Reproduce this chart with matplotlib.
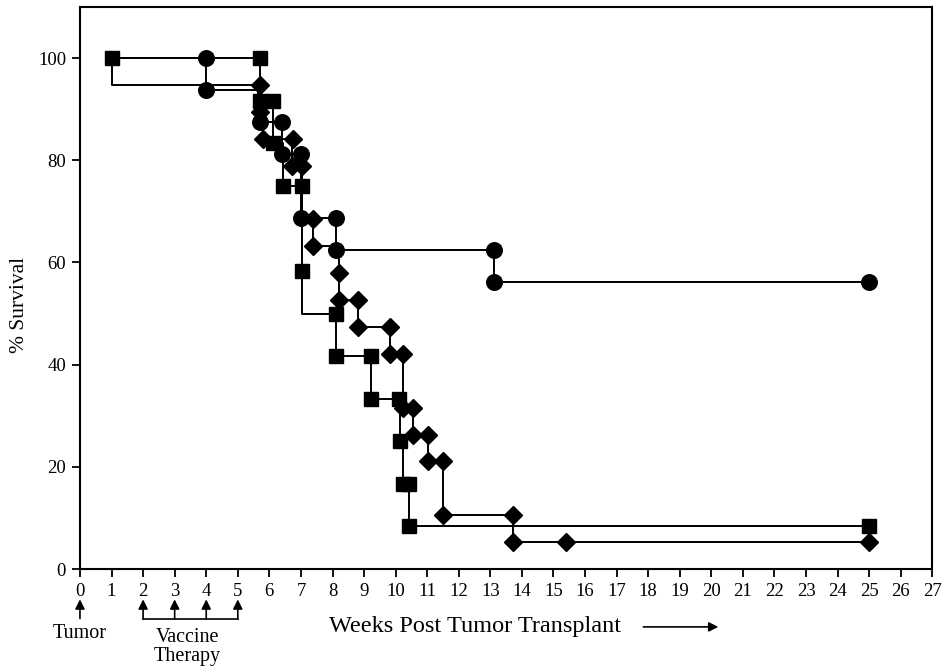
"""
Kaplan-Meier style survival curves after tumour transplant, three vaccine groups.
Step lines with filled markers at each death, plus the treatment schedule
marked under the week axis.
"""

import matplotlib
matplotlib.use("Agg")
import matplotlib.pyplot as plt

plt.rcParams["font.family"] = ["Liberation Serif", "DejaVu Serif"]

# ── Step curves (week, % survival), steps-post ────────────────────────────────
CIRC_WEEK = [1, 4, 5.65, 6.4, 7.0, 8.1, 13.1, 25]
CIRC_SURV = [100, 93.75, 87.5, 81.25, 68.75, 62.5, 56.25, 56.25]

DIAM_WEEK = [1, 1, 5.7, 5.8, 6.72, 7.03, 7.39, 8.2, 8.82, 9.83, 10.24,
             10.54, 11.02, 11.51, 13.71, 25]
DIAM_SURV = [100, 94.74, 89.47, 84.21, 78.95, 68.42, 63.16, 52.63, 47.37,
             42.11, 31.58, 26.32, 21.05, 10.53, 5.26, 5.26]

SQR_WEEK = [1, 5.7, 6.13, 6.44, 7.03, 8.11, 9.22, 10.13, 10.23, 10.42, 25]
SQR_SURV = [100, 91.67, 83.33, 75, 50, 41.67, 33.33, 25, 16.67, 8.33, 8.33]

# ── Marker positions ──────────────────────────────────────────────────────────
CIRC_MK_WEEK = [4, 4, 5.7, 6.4, 6.4, 7.0, 7.0, 8.1, 8.1, 13.1, 13.1, 25]
CIRC_MK_SURV = [100, 93.75, 87.5, 87.5, 81.25, 81.25, 68.75, 68.75, 62.5,
                62.5, 56.25, 56.25]

DIAM_MK_WEEK = [5.7, 5.7, 5.8, 6.75, 6.72, 7.03, 7.39, 7.39, 8.2, 8.2, 8.82,
                8.82, 9.83, 9.83, 10.24, 10.24, 10.54, 10.54, 11.02, 11.02,
                11.51, 11.51, 13.71, 13.71, 15.4, 25]
DIAM_MK_SURV = [94.74, 89.47, 84.21, 84.21, 78.95, 78.95, 68.42, 63.16, 57.89,
                52.63, 52.63, 47.37, 47.37, 42.11, 42.11, 31.58, 31.58, 26.32,
                26.32, 21.05, 21.05, 10.53, 10.53, 5.26, 5.26, 5.26]

SQR_MK_WEEK = [1, 5.7, 5.7, 6.13, 6.13, 6.44, 7.03, 7.03, 8.11, 8.11, 9.22,
               9.22, 10.12, 10.15, 10.22, 10.42, 10.42, 25]
SQR_MK_SURV = [100, 100, 91.67, 91.67, 83.33, 75, 75, 58.33, 50, 41.67, 41.67,
               33.33, 33.33, 25, 16.67, 16.67, 8.33, 8.33]

# ── Axis ticks / schedule ─────────────────────────────────────────────────────
X_TICKS = list(range(0, 28))
Y_TICKS = [0, 20, 40, 60, 80, 100]
TUMOR_WEEK = 0
VACCINE_WEEKS = [2, 3, 4, 5]

LW = 1.4
ARROW = dict(arrowstyle="-|>", color="black", lw=1.2, mutation_scale=14,
             shrinkA=0, shrinkB=0)


def main():
    fig = plt.figure(figsize=(9.53, 6.67), dpi=100)
    ax = fig.add_axes([0.0839, 0.1469, 0.8944, 0.8426])

    ax.plot(CIRC_WEEK, CIRC_SURV, drawstyle="steps-post", color="black", lw=LW)
    ax.plot(DIAM_WEEK, DIAM_SURV, drawstyle="steps-post", color="black", lw=LW)
    ax.plot(SQR_WEEK, SQR_SURV, drawstyle="steps-post", color="black", lw=LW)

    ax.plot(DIAM_MK_WEEK, DIAM_MK_SURV, ls="none", marker="D", ms=8.7,
            color="black", clip_on=False, zorder=3)
    ax.plot(CIRC_MK_WEEK, CIRC_MK_SURV, ls="none", marker="o", ms=11.2,
            color="black", clip_on=False, zorder=3)
    ax.plot(SQR_MK_WEEK, SQR_MK_SURV, ls="none", marker="s", ms=10.5,
            color="black", clip_on=False, zorder=4)

    ax.set_xlim(0, 27)
    ax.set_ylim(0, 110)
    ax.set_xticks(X_TICKS)
    ax.set_yticks(Y_TICKS)
    ax.tick_params(axis="both", direction="out", length=6, width=1.3,
                   labelsize=13.5, pad=4)
    for sp in ax.spines.values():
        sp.set_linewidth(1.5)

    ax.set_ylabel("% Survival", fontsize=15.5)
    ax.yaxis.set_label_coords(-0.06, 0.47)

    ax.text(0.4636, -0.103, "Weeks Post Tumor Transplant", fontsize=17.5,
            ha="center", va="center", transform=ax.transAxes)
    ax.annotate("", xy=(0.749, -0.103), xytext=(0.661, -0.103),
                xycoords=ax.transAxes, textcoords=ax.transAxes,
                arrowprops=ARROW, annotation_clip=False)

    # treatment schedule under the axis
    xt = ax.get_xaxis_transform()
    ax.annotate("", xy=(TUMOR_WEEK, -0.054), xytext=(TUMOR_WEEK, -0.088),
                xycoords=xt, textcoords=xt, arrowprops=ARROW,
                annotation_clip=False)
    ax.text(TUMOR_WEEK, -0.115, "Tumor", fontsize=14.5, ha="center",
            va="center", transform=xt)

    for w in VACCINE_WEEKS:
        ax.annotate("", xy=(w, -0.054), xytext=(w, -0.089),
                    xycoords=xt, textcoords=xt, arrowprops=ARROW,
                    annotation_clip=False)
    ax.plot([VACCINE_WEEKS[0], VACCINE_WEEKS[-1]], [-0.089, -0.089],
            color="black", lw=1.2, transform=xt, clip_on=False)
    ax.text(3.4, -0.139, "Vaccine\nTherapy", fontsize=14.5, ha="center",
            va="center", linespacing=1.05, transform=xt)

    fig.savefig("out.png", dpi=100)


if __name__ == "__main__":
    main()
